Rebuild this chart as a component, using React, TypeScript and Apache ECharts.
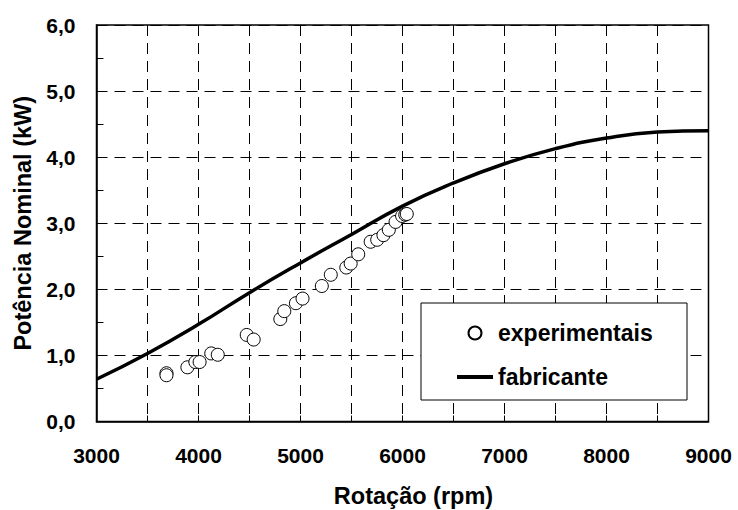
import React, { useEffect, useRef } from 'react';
import * as echarts from 'echarts';

// experimental points (rpm, kW)
const expRpm = [3686, 3686, 3891, 3969, 4011, 4125, 4189, 4473, 4541, 4802, 4841, 4955, 5020, 5209, 5297, 5449, 5492, 5566, 5688, 5752, 5813, 5866, 5932, 5996, 6027, 6042];
const expPower = [0.73, 0.70, 0.82, 0.90, 0.90, 1.03, 1.01, 1.31, 1.24, 1.55, 1.67, 1.79, 1.86, 2.05, 2.22, 2.33, 2.39, 2.53, 2.72, 2.75, 2.82, 2.90, 3.02, 3.11, 3.13, 3.14];

// manufacturer curve
const fabRpm = [3000, 3500, 4000, 4500, 5000, 5500, 6000, 6500, 7000, 7500, 8000, 8500, 9000];
const fabPower = [0.64, 1.03, 1.47, 1.95, 2.40, 2.83, 3.26, 3.61, 3.90, 4.13, 4.29, 4.38, 4.40];

const xLabelValues = [3000, 4000, 5000, 6000, 7000, 8000, 9000];

const FONT = 'Liberation Sans';

export default function App() {
  const ref = useRef<HTMLDivElement>(null);
  useEffect(() => {
    if (!ref.current) return;
    const chart = echarts.init(ref.current, null, { renderer: 'svg' });
    const base = { fontFamily: FONT, fontWeight: 'bold' as const, color: '#000' };
    chart.setOption({
      animation: false,
      backgroundColor: '#fff',
      grid: {
        left: 96.5, right: 29.5, top: 25, bottom: 88.5,
        outerBoundsMode: 'none', containLabel: false,
        show: true, borderColor: '#000', borderWidth: 1.5, backgroundColor: 'transparent',
      },
      xAxis: {
        type: 'value', min: 3000, max: 9000, interval: 500,
        name: 'Rotação (rpm)', nameLocation: 'middle', nameGap: 62,
        nameTextStyle: { ...base, fontSize: 23.5, padding: [0, 0, 0, 22] },
        axisLine: { show: true, lineStyle: { color: '#000', width: 1.5 } },
        axisTick: { show: true, inside: true, length: 6, lineStyle: { color: '#000', width: 1 } },
        axisLabel: {
          ...base, fontSize: 21, margin: 23,
          formatter: (v: number) => (xLabelValues.indexOf(v) >= 0 ? String(v) : ''),
        },
        splitLine: { show: true, lineStyle: { color: '#000', width: 1, type: [11, 7] } },
      },
      yAxis: {
        type: 'value', min: 0, max: 6, interval: 1,
        name: 'Potência Nominal (kW)', nameLocation: 'middle', nameGap: 61, nameRotate: 90,
        nameTextStyle: { ...base, fontSize: 23.5 },
        axisLine: { show: true, lineStyle: { color: '#000', width: 1.5 } },
        axisTick: { show: true, inside: true, length: 7, lineStyle: { color: '#000', width: 1 } },
        minorTick: { show: true, splitNumber: 2, length: 7, lineStyle: { color: '#000', width: 1 } },
        axisLabel: {
          ...base, fontSize: 21, margin: 21,
          formatter: (v: number) => v.toFixed(1).replace('.', ','),
        },
        splitLine: { show: true, lineStyle: { color: '#000', width: 1, type: [11, 7] } },
      },
      graphic: [
        {
          type: 'rect', z: 5,
          shape: { x: 421, y: 303, width: 266, height: 97 },
          style: { fill: '#fff', stroke: '#000', lineWidth: 1 },
        },
      ],
      legend: {
        show: true, orient: 'vertical', left: 457, top: 321.5, padding: 0,
        itemWidth: 36, itemHeight: 13, itemGap: 21, z: 10,
        textStyle: { ...base, fontSize: 23 },
        data: [
          { name: 'experimentais' },
          { name: 'fabricante', icon: 'path://M0,0 L36,0 L36,4 L0,4 Z' },
        ],
      },
      series: [
        {
          name: 'experimentais', type: 'scatter', symbol: 'circle', symbolSize: 13,
          itemStyle: { color: '#fff', borderColor: '#000', borderWidth: 1, opacity: 1 },
          data: expRpm.map((r, i) => [r, expPower[i]]),
          z: 2,
        },
        {
          name: 'fabricante', type: 'line', smooth: true, symbol: 'none',
          lineStyle: { color: '#000', width: 3.5 },
          itemStyle: { color: '#000' },
          data: fabRpm.map((r, i) => [r, fabPower[i]]),
          z: 3,
        },
      ],
    });
    return () => chart.dispose();
  }, []);
  return <div ref={ref} style={{ width: 738, height: 510, position: 'absolute', left: 0, top: 0 }} />;
}
